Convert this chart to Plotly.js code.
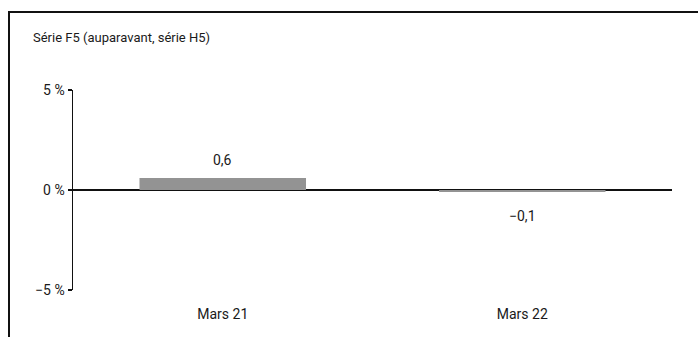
<!DOCTYPE html>
<html>
<head>
<meta charset="utf-8">
<script src="https://cdn.plot.ly/plotly-3.0.1.min.js"></script>
<style>
html,body{margin:0;padding:0;background:#fff;}
#wrap{position:relative;width:698px;height:337px;overflow:hidden;}
#chart{position:absolute;left:0;top:0;width:698px;height:337px;}
#frame{position:absolute;left:8px;top:11px;width:700px;height:340px;border-top:2px solid #111;border-left:2px solid #111;pointer-events:none;}
</style>
</head>
<body>
<div id="wrap"><div id="chart"></div><div id="frame"></div></div>
<script>
const categories = ['Mars 21', 'Mars 22'];
const values = [0.6, -0.1];
const yTickVals = [-5, 0, 5];
const yTickText = ['\u22125 %', '0 %', '5 %'];
const titleText = 'Série F5 (auparavant, série H5)';

const FONT = 'Roboto, "Liberation Sans", sans-serif';
const TXT = '#1a1a1a';

function fmt(v) {
  return (v < 0 ? '\u2212' : '') + Math.abs(v).toFixed(1).replace('.', ',');
}

const trace = {
  type: 'bar',
  x: categories,
  y: values,
  marker: {color: '#939393', line: {width: 0}},
  width: 0.556,
  hoverinfo: 'none'
};

const valueLabels = categories.map((c, i) => ({
  x: c, y: values[i], xref: 'x', yref: 'y',
  text: fmt(values[i]), showarrow: false,
  yanchor: values[i] >= 0 ? 'bottom' : 'top',
  yshift: values[i] >= 0 ? 8 : -14,
  font: {family: FONT, size: 14, color: TXT}
}));

const layout = {
  width: 698, height: 337,
  margin: {l: 73, r: 26, t: 90, b: 47, pad: 0},
  paper_bgcolor: '#fff', plot_bgcolor: '#fff',
  showlegend: false,
  font: {family: FONT, size: 14, color: TXT},
  annotations: [{
    text: titleText, xref: 'paper', yref: 'paper', x: -0.0693, y: 1.265,
    xanchor: 'left', yanchor: 'middle', showarrow: false,
    font: {family: FONT, size: 13, color: TXT}
  }].concat(valueLabels),
  xaxis: {
    type: 'category', showline: false, showgrid: false, zeroline: false,
    ticks: '', ticklabelstandoff: 14, tickfont: {family: FONT, size: 14, color: TXT},
    range: [-0.5, 1.5], fixedrange: true
  },
  yaxis: {
    range: [-5, 5], tickmode: 'array', tickvals: yTickVals, ticktext: yTickText,
    showline: true, linecolor: '#111', linewidth: 1.5,
    ticks: 'outside', ticklen: 4, tickwidth: 1.5, tickcolor: '#111',
    showgrid: false, zeroline: true, zerolinecolor: '#111', zerolinewidth: 1.5,
    tickfont: {family: FONT, size: 14, color: TXT}, fixedrange: true
  }
};

Plotly.newPlot('chart', [trace], layout, {staticPlot: true, displayModeBar: false});
</script>
</body>
</html>
